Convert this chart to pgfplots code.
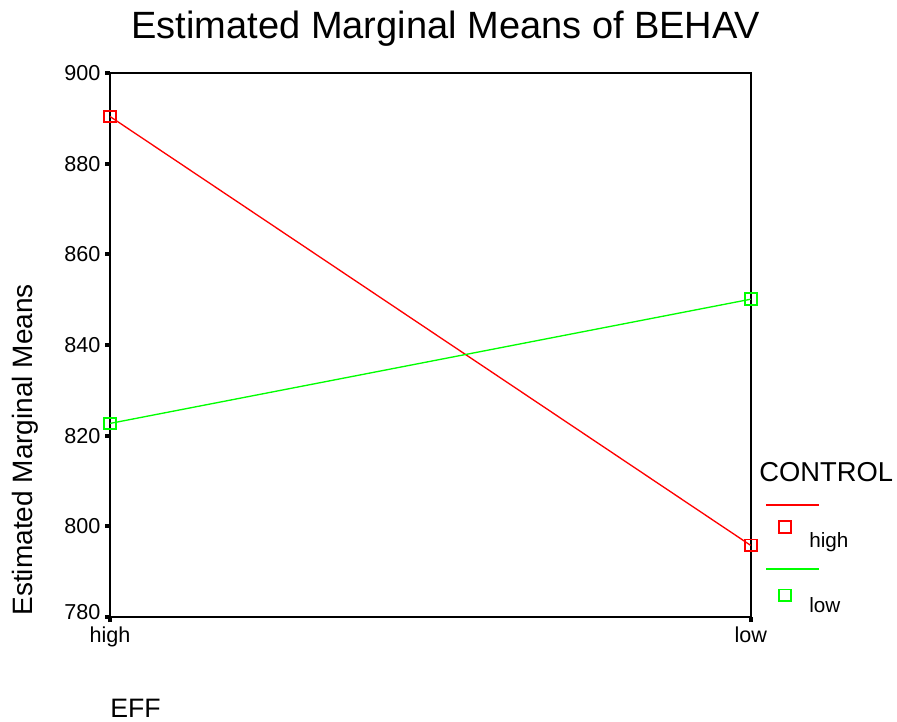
\documentclass[border=0pt]{standalone}
\usepackage{fontspec}
\setmainfont{Liberation Sans}
\usepackage{pgfplots}
\pgfplotsset{compat=1.18}
\definecolor{sred}{RGB}{255,0,0}
\definecolor{sgreen}{RGB}{0,255,0}
\begin{document}
\begin{tikzpicture}
\begin{axis}[
  scale only axis,
  width=480.5pt, height=408pt,
  xmin=0, xmax=1, ymin=780, ymax=900,
  clip=false,
  axis line style={line width=1.5pt, black},
  tick pos=left,
  tick align=outside,
  major tick length=3.75pt,
  every tick/.style={line width=3pt, black},
  xtick={0,1}, xticklabels={high,low},
  ytick={780,800,820,840,860,880,900},
  yticklabels={\raisebox{8pt}{780},800,820,840,860,880,900},
  /pgf/number format/assume math mode=true,
  ticklabel style={font=\fontsize{16.2}{19}\selectfont},
  every axis plot/.append style={line width=1pt},
]
\addplot[sred, mark=square, mark size=4.4pt, mark options={line width=1.4pt}] coordinates {(0,890.4) (1,795.8)};
\addplot[sgreen, mark=square, mark size=4.4pt, mark options={line width=1.4pt}] coordinates {(0,822.7) (1,850.1)};
% legend
\addplot[sred] coordinates {(1.0239,804.7) (1.1066,804.7)};
\addplot[sred, only marks, mark=square, mark size=4.2pt, mark options={line width=1.4pt}] coordinates {(1.0535,799.85)};
\addplot[sgreen] coordinates {(1.0239,790.6) (1.1066,790.6)};
\addplot[sgreen, only marks, mark=square, mark size=4.2pt, mark options={line width=1.4pt}] coordinates {(1.0535,784.85)};
\node[anchor=base west, inner sep=0pt, font=\fontsize{20.5}{24}\selectfont] at (axis cs:1.0130,809.8) {CONTROL};
\node[anchor=base west, inner sep=0pt, font=\fontsize{15.5}{18}\selectfont] at (axis cs:1.0910,795.3) {high};
\node[anchor=base west, inner sep=0pt, font=\fontsize{15.5}{18}\selectfont] at (axis cs:1.0910,780.9) {low};
% titles
\node[anchor=base, inner sep=0pt, font=\fontsize{28.5}{34}\selectfont] at (axis cs:0.5244,907.5) {Estimated Marginal Means of BEHAV};
\node[anchor=base, rotate=90, inner sep=0pt, font=\fontsize{21}{25}\selectfont] at (axis cs:-0.1202,816.9) {Estimated Marginal Means};
\node[anchor=base west, inner sep=0pt, font=\fontsize{20}{24}\selectfont] at (axis cs:0,757.94) {EFF};
\coordinate (bbsw) at (axis cs:-0.1717,757.06);
\coordinate (bbne) at (axis cs:1.2283,916.1);
\end{axis}
\pgfresetboundingbox
\path[use as bounding box] (bbsw) rectangle (bbne);
\end{tikzpicture}
\end{document}
